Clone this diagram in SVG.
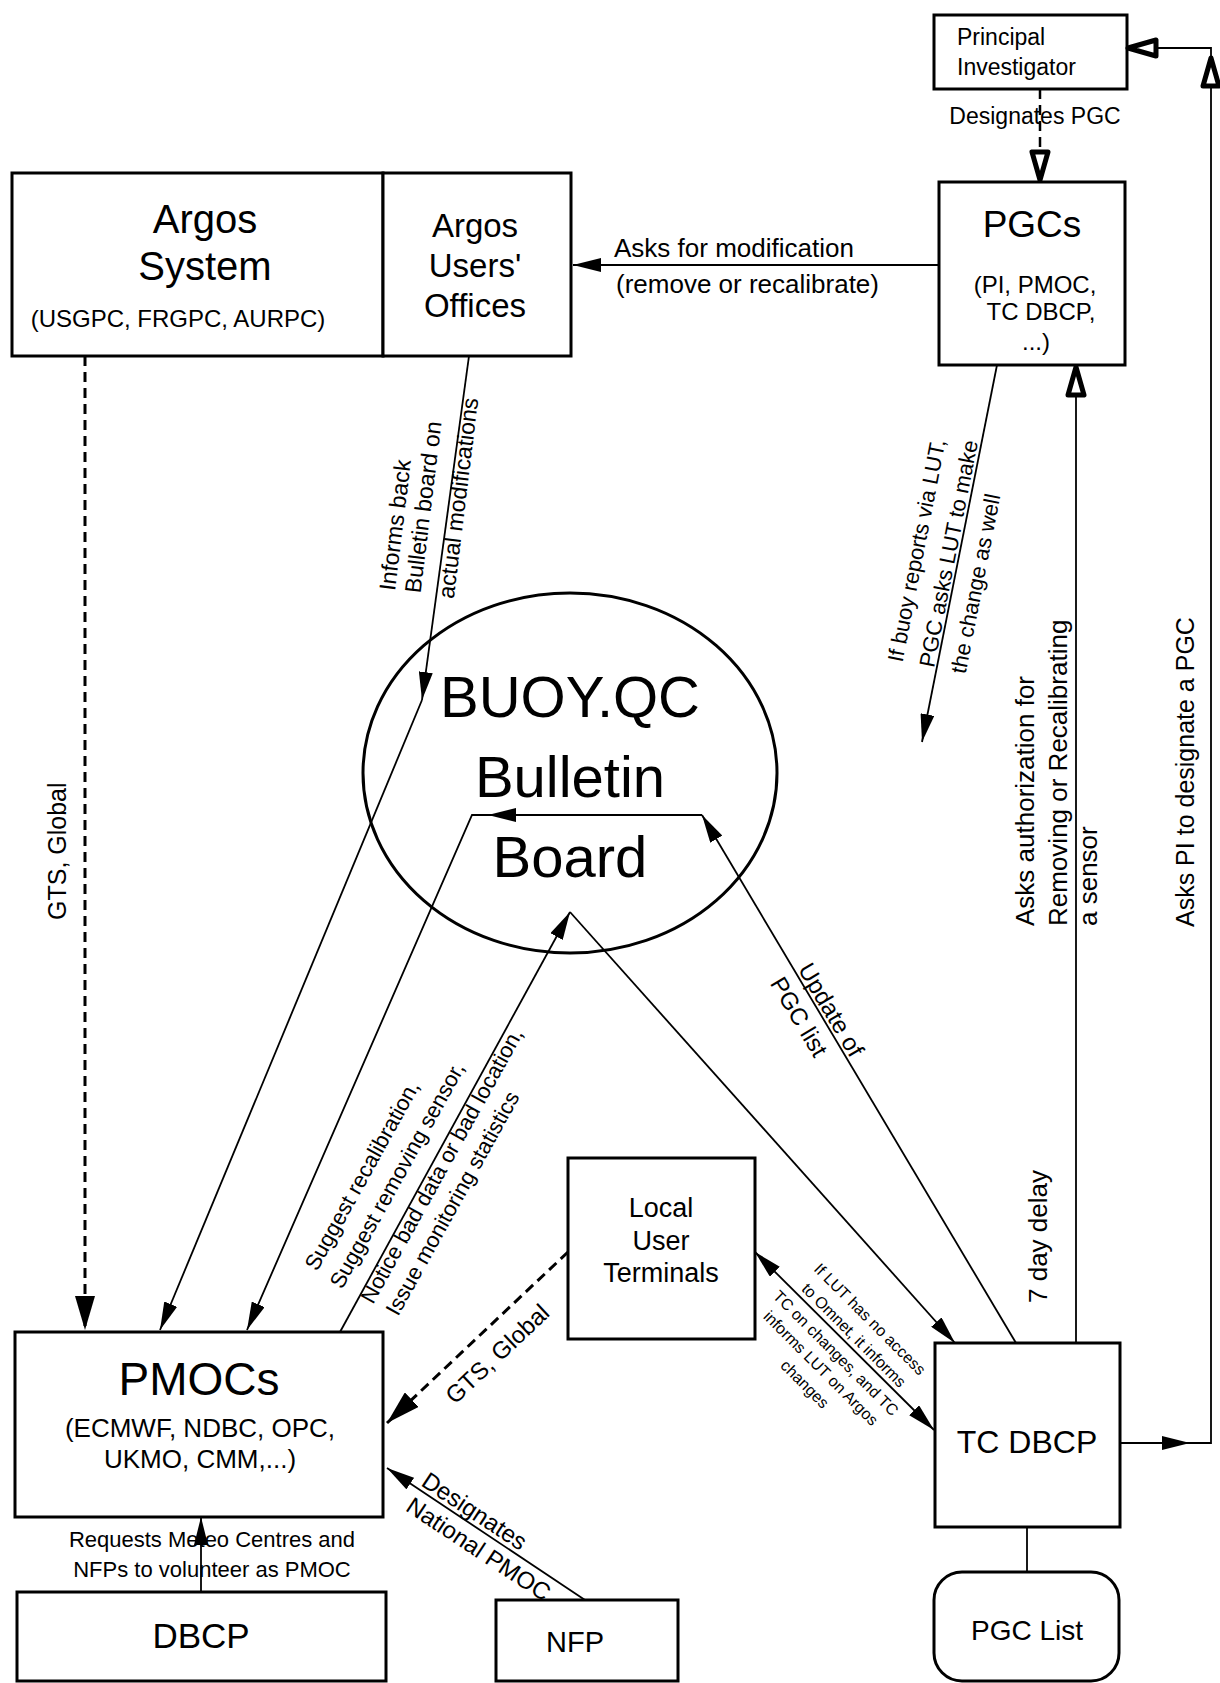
<svg xmlns="http://www.w3.org/2000/svg" width="1220" height="1683" viewBox="0 0 1220 1683">
<style>
text{font-family:"Liberation Sans",Arial,Helvetica,sans-serif;fill:#000}
.m{text-anchor:middle}
.box{fill:#fff;stroke:#000;stroke-width:3}
.ln{fill:none;stroke:#000;stroke-width:1.8}
.dl{fill:none;stroke:#000;stroke-width:3;stroke-dasharray:10 6}
</style>
<defs>
<marker id="a" viewBox="0 0 28 14" refX="28" refY="7" markerWidth="28" markerHeight="14" orient="auto-start-reverse" markerUnits="userSpaceOnUse"><path d="M0,0L28,7L0,14z"/></marker>
<marker id="ab" viewBox="0 0 34 20" refX="34" refY="10" markerWidth="34" markerHeight="20" orient="auto" markerUnits="userSpaceOnUse"><path d="M0,0L34,10L0,20z"/></marker>
<marker id="ah" viewBox="-4 -4 36 24" refX="28" refY="8" markerWidth="36" markerHeight="24" orient="auto" markerUnits="userSpaceOnUse"><path d="M0,0L28,8L0,16z" fill="#fff" stroke="#000" stroke-width="5" stroke-linejoin="round"/></marker>
</defs>
<rect width="1220" height="1683" fill="#fff"/>

<g id="argos-system">
<rect class="box" x="12" y="173" width="371" height="183"/>
<text class="m" x="205" y="233" font-size="40">Argos</text>
<text class="m" x="205" y="280" font-size="40">System</text>
<text class="m" x="178" y="327" font-size="24">(USGPC, FRGPC, AURPC)</text>
</g>
<g id="argos-users">
<rect class="box" x="383" y="173" width="188" height="183"/>
<text class="m" x="475" y="237" font-size="33">Argos</text>
<text class="m" x="475" y="277" font-size="33">Users'</text>
<text class="m" x="475" y="317" font-size="33">Offices</text>
</g>
<g id="pi">
<rect class="box" x="934" y="15" width="193" height="74"/>
<text x="957" y="45" font-size="23">Principal</text>
<text x="957" y="75" font-size="23">Investigator</text>
</g>
<g id="pgcs">
<rect class="box" x="939" y="182" width="186" height="183"/>
<text class="m" x="1032" y="237" font-size="37">PGCs</text>
<text class="m" x="1035" y="293" font-size="24">(PI, PMOC,</text>
<text class="m" x="1041" y="320" font-size="24">TC DBCP,</text>
<text class="m" x="1036" y="350" font-size="24">...)</text>
</g>
<g id="bulletin-board">
<ellipse cx="570" cy="773" rx="207" ry="180" fill="none" stroke="#000" stroke-width="3"/>
<text class="m" x="570" y="717" font-size="58">BUOY.QC</text>
<text class="m" x="570" y="797" font-size="58">Bulletin</text>
<text class="m" x="570" y="877" font-size="58">Board</text>
</g>
<g id="lut">
<rect class="box" x="568" y="1158" width="187" height="181"/>
<text class="m" x="661" y="1217" font-size="27">Local</text>
<text class="m" x="661" y="1250" font-size="27">User</text>
<text class="m" x="661" y="1282" font-size="27">Terminals</text>
</g>
<g id="pmocs">
<rect class="box" x="15" y="1332" width="368" height="185"/>
<text class="m" x="199" y="1395" font-size="46">PMOCs</text>
<text class="m" x="200" y="1437" font-size="26">(ECMWF, NDBC, OPC,</text>
<text class="m" x="200" y="1468" font-size="26">UKMO, CMM,...)</text>
</g>
<g id="tc-dbcp">
<rect class="box" x="935" y="1343" width="185" height="184"/>
<text class="m" x="1027" y="1453" font-size="32">TC DBCP</text>
</g>
<g id="dbcp">
<rect class="box" x="17" y="1592" width="369" height="89"/>
<text class="m" x="201" y="1648" font-size="35">DBCP</text>
</g>
<g id="nfp">
<rect class="box" x="496" y="1600" width="182" height="81"/>
<text class="m" x="575" y="1652" font-size="29">NFP</text>
</g>
<g id="pgc-list">
<rect class="box" x="934" y="1572" width="185" height="109" rx="28"/>
<text class="m" x="1027" y="1640" font-size="28">PGC List</text>
</g>

<g id="connectors">
<path class="ln" d="M939,265H573" marker-end="url(#a)"/>
<path class="dl" style="stroke-width:2.5" d="M1040,89V180" marker-end="url(#ah)"/>
<path class="ln" d="M1120,1443H1190" marker-end="url(#a)"/>
<path class="ln" d="M1190,1443H1211V58" marker-end="url(#ah)"/>
<path class="ln" d="M1211,58V48H1128" marker-end="url(#ah)"/>
<path class="ln" d="M469,356L422,700" marker-end="url(#a)"/>
<path class="ln" d="M422,700L160,1330" marker-end="url(#a)"/>
<path class="dl" d="M85,356V1330" marker-end="url(#ab)"/>
<path class="ln" d="M997,365L922,742" marker-end="url(#a)"/>
<path class="ln" d="M1076,1343V367" marker-end="url(#ah)"/>
<path class="ln" d="M1016,1343L702,815" marker-end="url(#a)"/>
<path class="ln" d="M702,815H488" marker-end="url(#a)"/>
<path class="ln" d="M488,815H472L247,1330" marker-end="url(#a)"/>
<path class="ln" d="M340,1332L570,912" marker-end="url(#a)"/>
<path class="ln" d="M570,912L955,1343" marker-end="url(#a)"/>
<path class="ln" d="M755,1252L934,1430" marker-start="url(#a)" marker-end="url(#a)"/>
<path class="dl" d="M568,1252L387,1423" marker-end="url(#ab)"/>
<path class="ln" d="M585,1600L387,1468" marker-end="url(#a)"/>
<path class="ln" d="M201,1592V1517" marker-end="url(#a)"/>
<path class="ln" d="M1027,1527V1572"/>
</g>

<g id="labels">
<text class="m" x="1035" y="124" font-size="23">Designates PGC</text>
<text x="614" y="257" font-size="26">Asks for modification</text>
<text x="616" y="293" font-size="26">(remove or recalibrate)</text>
<text class="m" font-size="23" transform="translate(403,526) rotate(-83)">Informs back</text>
<text class="m" font-size="23" transform="translate(431,508) rotate(-83)">Bulletin board on</text>
<text class="m" font-size="23" transform="translate(466,499) rotate(-83)">actual modifications</text>
<text font-size="25" transform="translate(66,920) rotate(-90)">GTS, Global</text>
<text class="m" font-size="22" transform="translate(924,552) rotate(-79)">If buoy reports via LUT,</text>
<text class="m" font-size="22" transform="translate(956,555) rotate(-79)">PGC asks LUT to make</text>
<text class="m" font-size="22" transform="translate(983,585) rotate(-79)">the change as well</text>
<text font-size="26" transform="translate(1034,926) rotate(-90)">Asks authorization for</text>
<text font-size="26" transform="translate(1067,926) rotate(-90)">Removing or Recalibrating</text>
<text font-size="26" transform="translate(1097,926) rotate(-90)">a sensor</text>
<text font-size="26" transform="translate(1047,1303) rotate(-90)">7 day delay</text>
<text font-size="25" transform="translate(1194,927) rotate(-90)">Asks PI to designate a PGC</text>
<text class="m" font-size="24" transform="translate(824,1014) rotate(59.3)">Update of</text>
<text class="m" font-size="24" transform="translate(792,1021) rotate(59.3)">PGC list</text>
<text font-size="22" transform="translate(317,1272) rotate(-61)">Suggest recalibration,</text>
<text font-size="22" transform="translate(342,1290) rotate(-61)">Suggest removing sensor,</text>
<text font-size="22" transform="translate(373,1305) rotate(-61)">Notice bad data or bad location,</text>
<text font-size="22" transform="translate(398,1317) rotate(-61)">Issue monitoring statistics</text>
<text class="m" font-size="16" transform="translate(866,1323) rotate(45)">If LUT has no access</text>
<text class="m" font-size="16" transform="translate(850,1339) rotate(45)">to Omnet, it informs</text>
<text class="m" font-size="16" transform="translate(832,1357) rotate(45)">TC on changes, and TC</text>
<text class="m" font-size="16" transform="translate(817,1372) rotate(45)">informs LUT on Argos</text>
<text class="m" font-size="16" transform="translate(801,1388) rotate(45)">changes</text>
<text class="m" font-size="24" transform="translate(503,1360) rotate(-43.4)">GTS, Global</text>
<text class="m" font-size="24" transform="translate(470,1518) rotate(33.4)">Designates</text>
<text class="m" font-size="24" transform="translate(474,1556) rotate(33.4)">National PMOC</text>
<text class="m" x="212" y="1547" font-size="22">Requests Meteo Centres and</text>
<text class="m" x="212" y="1577" font-size="22">NFPs to volunteer as PMOC</text>
</g>
</svg>
